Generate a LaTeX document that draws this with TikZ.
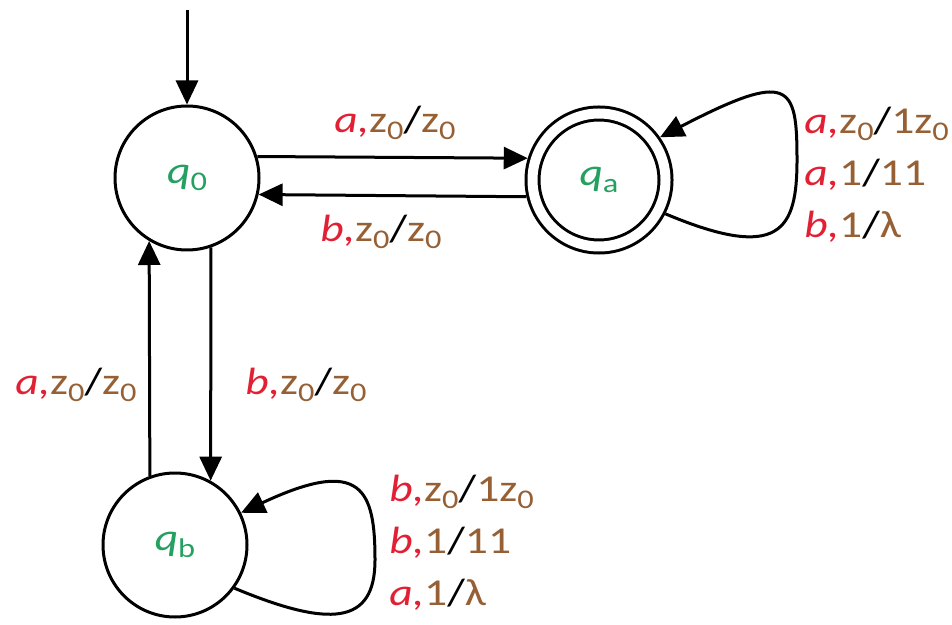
\documentclass[tikz,border=0pt]{standalone}
\usepackage{fontspec}
\setmainfont{Carlito}[FakeStretch=1.2]
\usepackage{tikz}
\usepackage{xcolor}
\usetikzlibrary{arrows.meta}

\definecolor{inred}{RGB}{226,32,52}
\definecolor{stkbrown}{RGB}{150,96,52}
\definecolor{stgreen}{RGB}{36,160,96}

%% 下标与标签命令
\newcommand{\sub}[1]{\raisebox{-0.35ex}{\fontsize{13.5}{13.5}\selectfont #1}}
\newcommand{\qlab}[1]{\textcolor{stgreen}{\textit{q}\sub{#1}}}
\newcommand{\inp}[1]{\textcolor{inred}{\textit{#1,}}}
\newcommand{\stk}[1]{\textcolor{stkbrown}{#1}}
\newcommand{\zz}{\stk{z\sub{0}}}

\begin{document}
\begin{tikzpicture}[x=0.5pt, y=-0.5pt,
    font=\fontsize{19}{26}\selectfont,
    state/.style={draw, circle, line width=1.5pt, minimum size=72pt, inner sep=0pt},
    accept/.style={state, double, double distance=5pt, minimum size=66.5pt, outer sep=4pt},
    edge/.style={line width=1.5pt, -{Triangle[length=12pt, width=11pt]}},
    lbl/.style={inner sep=0pt, align=left}]
    \useasboundingbox (0,0) rectangle (952,625);

    %% 状态
    \node[state]  (q0) at (187,178) {\qlab{0}};
    \node[accept] (qa) at (599,180) {\qlab{a}};
    \node[state]  (qb) at (175,545) {\qlab{b}};
    \coordinate (start) at (187,10);

    %% 转移
    \draw[edge] (start) -- (q0);
    \draw[edge] (q0.17) -- (qa.163);
    \draw[edge] (qa.193) -- (q0.-13);
    \draw[edge] (q0.-71) -- (qb.61);
    \draw[edge] (qb.110) -- (q0.-121);
    % 自环
    \draw[edge] (qa.-27) .. controls (780,262) and (797,230) .. (797,160)
                .. controls (797,84) and (790,70) .. (qa.35);
    \draw[edge] (qb.-36) .. controls (330,628) and (375,625) .. (375,560)
                .. controls (375,490) and (362,456) .. (qb.26);

    %% 标签
    \node[lbl] (lab0a) at (395,123) {\inp{a}\zz/\zz};
    \node[lbl] (laba0) at (381,232) {\inp{b}\zz/\zz};
    \node[lbl] (labb0) at (76,385)  {\inp{a}\zz/\zz};
    \node[lbl] (lab0b) at (306,385) {\inp{b}\zz/\zz};
    \node[lbl, anchor=west] (labaa) at (804,175)
        {\inp{a}\zz/\stk{1}\zz\\ \inp{a}\stk{1}/\stk{11}\\ \inp{b}\stk{1}/\stk{λ}};
    \node[lbl, anchor=west] (labbb) at (389,543)
        {\inp{b}\zz/\stk{1}\zz\\ \inp{b}\stk{1}/\stk{11}\\ \inp{a}\stk{1}/\stk{λ}};
\end{tikzpicture}
\end{document}
